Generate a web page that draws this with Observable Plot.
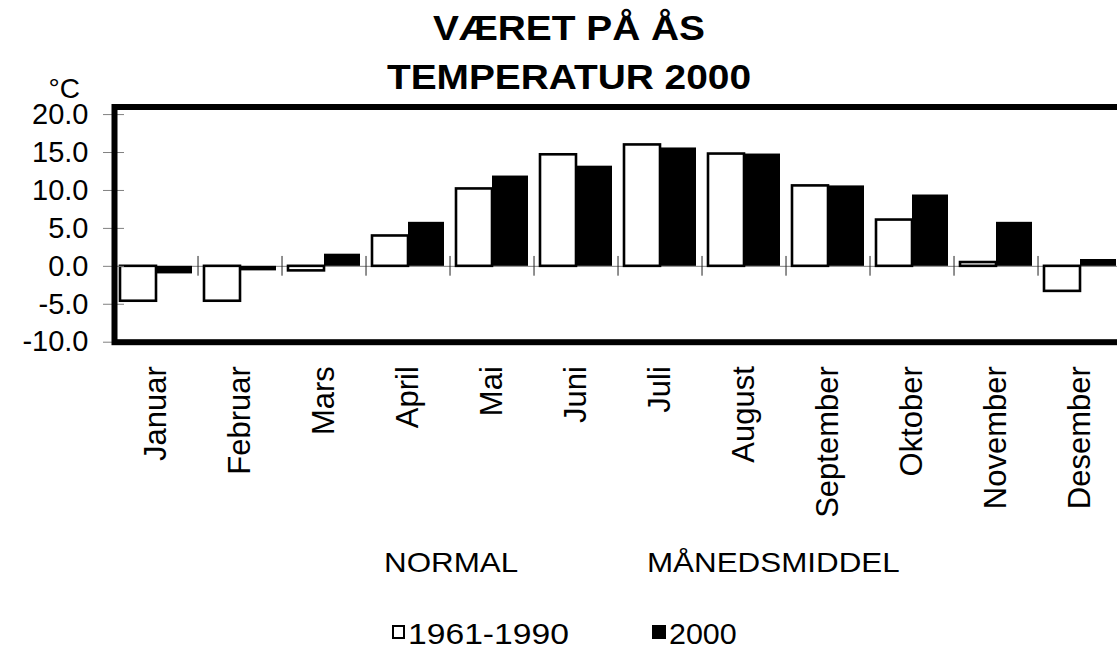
<!DOCTYPE html>
<html>
<head>
<meta charset="utf-8">
<script src="https://cdn.jsdelivr.net/npm/d3@7"></script>
<script src="https://cdn.jsdelivr.net/npm/@observablehq/plot@0.6"></script>
<style>
  html, body { margin: 0; padding: 0; background: white; overflow: hidden; }
  #wrap { position: relative; width: 1117px; height: 658px; overflow: hidden; background: white;
          font-family: "Liberation Sans", Arial, sans-serif; color: black; }
  #chart { position: absolute; left: 0; top: 0; width: 1140px; }
  #chart svg { max-width: none !important; width: 1140px; height: 530px; }
  .t { position: absolute; white-space: nowrap; }
  #title { left: 0; top: 3.4px; width: 1138px; text-align: center; font-weight: bold; font-size: 35px;
           line-height: 49px; transform: scaleX(1.11); transform-origin: 569px 0; }
  #unit { left: 0; top: 75px; width: 80px; text-align: right; font-size: 28px; line-height: 28px; }
  .cap { font-size: 28px; line-height: 28px; transform: scaleX(1.12); transform-origin: 0 0; }
  .leg { font-size: 29px; line-height: 29px; transform: scaleX(1.1); transform-origin: 0 0; }
  .sw { position: absolute; width: 13.5px; height: 13.5px; box-sizing: border-box; border: 2px solid black; }
</style>
</head>
<body>
<div id="wrap">
  <div id="chart"></div>
  <div id="title" class="t"></div>
  <div id="unit" class="t"></div>
  <div id="capNormal" class="t cap" style="left:384px; top:549.3px;"></div>
  <div id="capMiddel" class="t cap" style="left:647.3px; top:549.3px;"></div>
  <div class="sw" style="left:391.7px; top:625px; background:white;"></div>
  <div id="leg1" class="t leg" style="left:408.3px; top:620px; transform: scaleX(1.16);"></div>
  <div class="sw" style="left:652.3px; top:625px; background:black;"></div>
  <div id="leg2" class="t leg" style="left:669.3px; top:620px; transform: scaleX(1.05);"></div>
</div>
<script>
const titleLines = ["VÆRET PÅ ÅS", "TEMPERATUR 2000"];
const unitLabel = "°C";
const captions = ["NORMAL", "MÅNEDSMIDDEL"];
const months = ["Januar", "Februar", "Mars", "April", "Mai", "Juni", "Juli", "August", "September", "Oktober", "November", "Desember"];
const seriesNames = ["1961-1990", "2000"];
const normal1961_1990 = [-4.6, -4.6, -0.6, 4.0, 10.2, 14.7, 16.0, 14.8, 10.6, 6.1, 0.5, -3.3];
const mean2000 = [-1.0, -0.6, 1.6, 5.8, 11.9, 13.2, 15.6, 14.8, 10.6, 9.4, 5.8, 0.9];
const yTicks = [-10, -5, 0, 5, 10, 15, 20];

document.getElementById("title").innerHTML = titleLines.join("<br>");
document.getElementById("unit").textContent = unitLabel;
document.getElementById("capNormal").textContent = captions[0];
document.getElementById("capMiddel").textContent = captions[1];
document.getElementById("leg1").textContent = seriesNames[0];
document.getElementById("leg2").textContent = seriesNames[1];

const normalData = months.map((m, i) => ({month: m, series: seriesNames[0], value: normal1961_1990[i]}));
const data2000 = months.map((m, i) => ({month: m, series: seriesNames[1], value: mean2000[i]}));

const W = 1140, H = 530;
const chart = Plot.plot({
  width: W, height: H,
  marginLeft: 108, marginRight: 12.8, marginTop: 106.5, marginBottom: 188.3,
  style: {fontFamily: "'Liberation Sans', Arial, sans-serif", background: "transparent", overflow: "visible", color: "black", maxWidth: "none"},
  fx: {domain: months, padding: 0, label: null},
  x: {domain: seriesNames, paddingInner: 0, paddingOuter: 0.165, axis: null},
  y: {domain: [-10, 21], label: null},
  marks: [
    Plot.ruleY([0], {stroke: "#808080", strokeWidth: 1}),
    Plot.ruleX(months, {fx: d => d, x: null, y1: -1.3, y2: 1.3, dx: -42.47, stroke: "#222", strokeWidth: 1}),
    Plot.barY(normalData, {fx: "month", x: "series", y: "value", fill: "white", stroke: "black", strokeWidth: 2.6}),
    Plot.barY(data2000, {fx: "month", x: "series", y: "value", fill: "black"}),
    Plot.axisY({ticks: yTicks, anchor: "left", tickSize: 21, dx: 10, tickFormat: () => "", stroke: "#808080"}),
    Plot.axisY({ticks: yTicks, anchor: "left", tickSize: 0, tickPadding: 26, tickFormat: d => d.toFixed(1), fontSize: 29, fill: "black", label: null}),
    Plot.axisFx({anchor: "bottom", tickSize: 0, tickPadding: 24, tickRotate: -90, fontSize: 31, fill: "black", label: null}),
    Plot.frame({facet: "super", stroke: "black", strokeWidth: 6})
  ]
});
chart.style.maxWidth = "none";
document.getElementById("chart").appendChild(chart);
</script>
</body>
</html>
